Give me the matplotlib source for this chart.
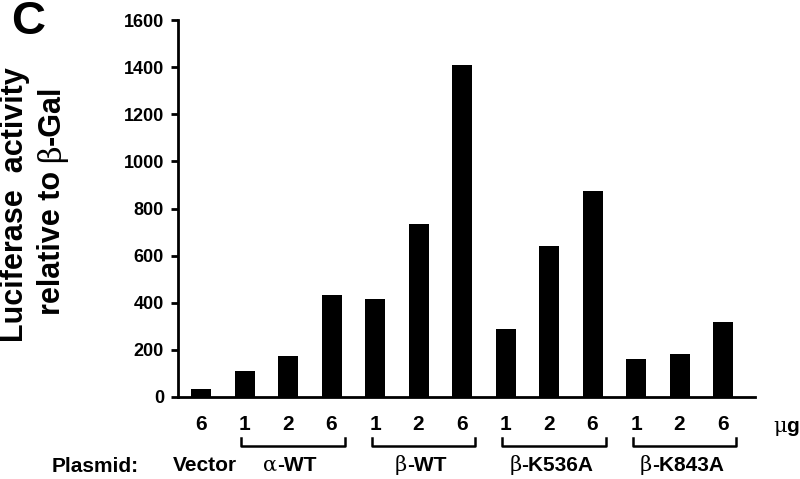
import numpy as np
import matplotlib.pyplot as plt
import matplotlib.transforms as mtransforms

plt.rcParams['font.family'] = ['Liberation Sans', 'DejaVu Sans']

# Data
doses = ["6", "1", "2", "6", "1", "2", "6", "1", "2", "6", "1", "2", "6"]
activity = [35, 110, 172, 435, 414, 735, 1407, 290, 642, 873, 163, 181, 319]
groups = [("", "Vector"), ("\u03b1", "-WT"), ("\u03b2", "-WT"),
          ("\u03b2", "-K536A"), ("\u03b2", "-K843A")]
group_bars = [(0, 0), (1, 3), (4, 6), (7, 9), (10, 12)]

fig = plt.figure(figsize=(8, 4.79), dpi=100)
ax = fig.add_axes([0.2225, 0.1712, 0.7215, 0.787])

x = np.arange(len(activity))
ax.bar(x, activity, width=0.46, color='black')

ax.set_xlim(-0.53, 12.74)
ax.set_ylim(0, 1600)
ax.set_yticks(np.arange(0, 1601, 200))
ax.set_yticklabels([str(v) for v in range(0, 1601, 200)],
                   fontsize=13, fontweight='bold')
ax.set_xticks([])
for s in ['top', 'right']:
    ax.spines[s].set_visible(False)
ax.spines['left'].set_linewidth(2)
ax.spines['bottom'].set_linewidth(2)
ax.tick_params(axis='y', direction='out', length=5, width=2, pad=5)

trans = mtransforms.blended_transform_factory(ax.transData, ax.transAxes)
renderer = fig.canvas.get_renderer()


def mixed_label(xc, y, pieces, size, tr, vertical=False):
    # pieces: list of (text, is_greek); greek in thin serif, rest bold sans
    rot = 90 if vertical else 0
    parts = []
    for s, greek in pieces:
        if not s:
            continue
        if greek:
            t = fig.text(0, 0, s, fontsize=size, family='DejaVu Serif',
                         rotation=rot)
        else:
            t = fig.text(0, 0, s, fontsize=size, fontweight='bold',
                         rotation=rot)
        parts.append(t)
    ext = [p.get_window_extent(renderer) for p in parts]
    sizes = [e.height if vertical else e.width for e in ext]
    off = -sum(sizes) / 2
    for p, w in zip(parts, sizes):
        p.set_position((xc, y))
        if vertical:
            p.set_transform(mtransforms.offset_copy(tr, fig=fig, x=0, y=off,
                                                    units='dots'))
            p.set_ha('center')
            p.set_va('bottom')
            p.set_rotation_mode('anchor')
            p.set_ha('left')
            p.set_va('center')
        else:
            p.set_transform(mtransforms.offset_copy(tr, fig=fig, x=off, y=0,
                                                    units='dots'))
            p.set_ha('left')
            p.set_va('baseline')
        p.set_clip_on(False)
        off += w


# dose labels under the bars
for xi, d in zip(x, doses):
    ax.text(xi, -0.074, d, transform=trans, ha='center', va='center',
            fontsize=15, fontweight='bold', clip_on=False)
mixed_label(13.45, -0.093, [("\u03bc", True), ("g", False)], 15, trans)

# brackets and group names
for (g, name), (a, b) in zip(groups, group_bars):
    if a != b:
        xs = [a - 0.08, a - 0.08, b + 0.3, b + 0.3]
        ys = [-0.109, -0.130, -0.130, -0.109]
        ax.plot(xs, ys, color='black', lw=1.8, transform=trans, clip_on=False)
        xc = (a + b) / 2 + 0.05
    else:
        xc = a + 0.1
    mixed_label(xc, -0.195, [(g, True), (name, False)], 15, trans)

fig.text(95 / 800, 1 - 472 / 479, "Plasmid:", ha='center', va='baseline',
         fontsize=15, fontweight='bold')

# y label in two lines
fig.text(15 / 800, 1 - 205 / 479, "Luciferase  activity", rotation=90,
         ha='center', va='center', fontsize=22, fontweight='bold')
mixed_label(52 / 800, 1 - 200 / 479,
            [("relative to ", False), ("\u03b2", True), ("-Gal", False)],
            22, fig.transFigure, vertical=True)

fig.text(28 / 800, 1 - 22 / 479, "C", ha='center', va='center',
         fontsize=34, fontweight='bold')

fig.savefig("out.png", dpi=100)
